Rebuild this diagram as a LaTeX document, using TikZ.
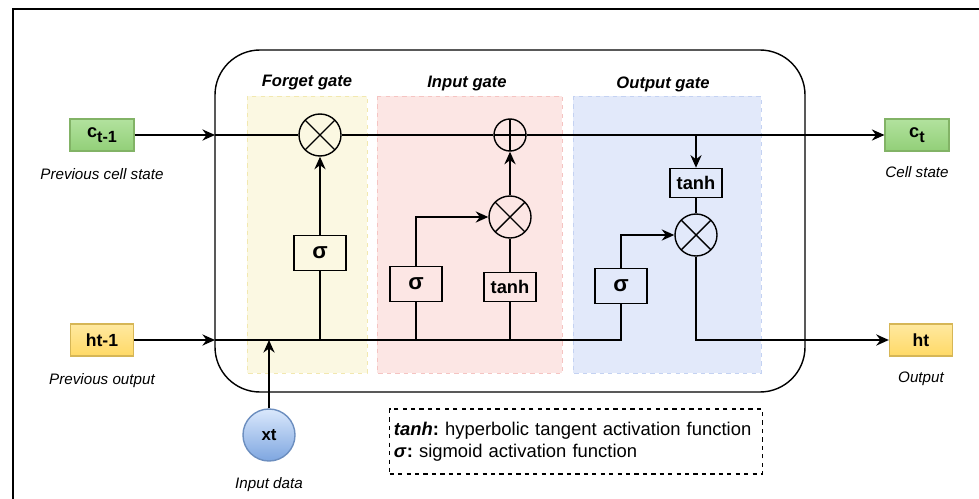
\documentclass[tikz,border=0pt]{standalone}
\usepackage{fontspec}
\setmainfont{Liberation Sans}
\usetikzlibrary{positioning}
\usetikzlibrary{arrows.meta}

\definecolor{statefill}{HTML}{92CF78}
\definecolor{statetop}{HTML}{B2E29E}
\definecolor{stateline}{HTML}{82B366}
\definecolor{outtop}{HTML}{FFE9A0}
\definecolor{outfill}{HTML}{FFD966}
\definecolor{outline}{HTML}{D6B656}
\definecolor{xtop}{HTML}{DAE8FC}
\definecolor{xbot}{HTML}{7EA6E0}
\definecolor{xline}{HTML}{6C8EBF}
\definecolor{forgetbg}{HTML}{FBF8E2}
\definecolor{forgetln}{HTML}{F2E8B0}
\definecolor{inputbg}{HTML}{FCE6E4}
\definecolor{inputln}{HTML}{F5C4C2}
\definecolor{outputbg}{HTML}{E2E9FA}
\definecolor{outputln}{HTML}{C4D2F2}

\tikzset{
    arr/.style={-{Stealth[length=9pt, width=8pt, inset=3pt]}},
    gatebg/.style={dashed, line width=0.6pt},
    gatetitle/.style={font=\fontsize{11.8}{14}\selectfont\bfseries\itshape},
    caption/.style={font=\fontsize{10.8}{13}\selectfont\itshape},
    actbox/.style={draw, minimum width=1.3cm, inner sep=0pt, font=\fontsize{13}{15}\selectfont\bfseries},
    sigbox/.style={actbox, minimum height=0.875cm, font=\fontsize{16}{18}\selectfont\bfseries},
    tanhbox/.style={actbox, minimum height=0.73cm},
    statebox/.style={draw=stateline, top color=statetop, bottom color=statefill, minimum width=1.6cm, minimum height=0.8cm, line width=0.8pt, font=\fontsize{13}{15}\selectfont\bfseries},
    hbox/.style={draw=outline, top color=outtop, bottom color=outfill, minimum width=1.58cm, minimum height=0.8cm, line width=0.8pt, font=\fontsize{12.5}{15}\selectfont\bfseries},
    mult/.style={circle, draw, minimum size=1.05cm, inner sep=0pt,
        path picture={\draw (path picture bounding box.north west) -- (path picture bounding box.south east)
                            (path picture bounding box.north east) -- (path picture bounding box.south west);}},
    plus/.style={circle, draw, minimum size=0.8cm, inner sep=0pt,
        path picture={\draw (path picture bounding box.north) -- (path picture bounding box.south)
                            (path picture bounding box.west) -- (path picture bounding box.east);}},
}

\begin{document}
\begin{tikzpicture}[x=0.025cm, y=-0.025cm, line width=1pt]

    \useasboundingbox (0,0) rectangle (979,499);

    % outer frame
    \draw[line width=1.4pt] (13,499) -- (13,9) -- (979,9);

    % gate regions
    \draw[gatebg, draw=forgetln, fill=forgetbg] (247,96) rectangle (367,373);
    \draw[gatebg, draw=inputln, fill=inputbg] (377,96) rectangle (562,373);
    \draw[gatebg, draw=outputln, fill=outputbg] (573,96) rectangle (761,373);

    \node[gatetitle] at (307,83) {Forget gate};
    \node[gatetitle] at (467,84) {Input gate};
    \node[gatetitle] at (663,84) {Output gate};

    % cell body
    \draw[rounded corners=1.125cm] (215,50) rectangle (805,392);

    % inputs and outputs
    \node[statebox] (cprev) at (102,135) {c\raisebox{-0.45ex}{\fontsize{11.5}{13}\selectfont t-1}};
    \node[hbox] (hprev) at (102,340) {ht-1};
    \node[statebox] (cnext) at (917,135) {c\raisebox{-0.45ex}{\fontsize{11.5}{13}\selectfont t}};
    \node[hbox] (hnext) at (921,340) {ht};
    \node[circle, draw=xline, top color=xtop, bottom color=xbot, minimum size=1.3cm, inner sep=0pt,
          font=\fontsize{12}{14}\selectfont\bfseries] (xt) at (269,435) {xt};

    \node[caption, below=0.3cm of cprev] {Previous cell state};
    \node[caption, below=0.28cm of hprev] {Previous output};
    \node[caption, below=0.25cm of cnext] {Cell state};
    \node[caption, below=0.26cm of hnext] {Output};
    \node[caption, below=0.25cm of xt] {Input data};

    \coordinate (cin) at (215,135);
    \coordinate (hin) at (215,340);
    \coordinate (split) at (696,135);

    % forget gate
    \node[mult] (fmul) at (320,135) {};
    \node[sigbox] (fsig) at (320,253) {σ};

    % input gate
    \node[plus] (iadd) at (510,135) {};
    \node[mult] (imul) at (510,217) {};
    \node[sigbox] (isig) at (416,284) {σ};
    \node[tanhbox] (itanh) at (510,287) {tanh};

    % output gate
    \node[tanhbox] (otanh) at (696,183) {tanh};
    \node[mult] (omul) at (696,235) {};
    \node[sigbox] (osig) at (621,286) {σ};

    % cell state line
    \draw[arr] (cprev) -- (cin);
    \draw (cin) -- (fmul);
    \draw (fmul) -- (iadd);
    \draw[arr] (iadd) -- (cnext);
    \draw[arr] (split) -- (otanh);

    % hidden line
    \draw[arr] (hprev) -- (hin);
    \draw (hin) -- (osig.south |- hin) -- (osig.south);
    \draw (fsig.south |- hin) -- (fsig);
    \draw (isig.south |- hin) -- (isig);
    \draw (itanh.south |- hin) -- (itanh);
    \draw[arr] (xt) -- (xt |- hin);

    % gates
    \draw[arr] (fsig) -- (fmul);
    \draw[arr] (isig.north) |- (imul);
    \draw (itanh) -- (imul);
    \draw[arr] (imul) -- (iadd);
    \draw (otanh) -- (omul);
    \draw[arr] (osig.north) |- (omul);
    \draw[arr] (omul) |- (hnext);

    % legend
    \node[draw, dashed, line width=1pt, text width=9.1cm, minimum height=1.625cm, inner sep=3pt,
          align=left, font=\fontsize{13.1}{15.5}\selectfont\frenchspacing] (legend) at (576,441.5)
        {\textbf{\textit{tanh}:} hyperbolic tangent activation function\\
         \textbf{\textit{σ}:} sigmoid activation function};

\end{tikzpicture}
\end{document}
